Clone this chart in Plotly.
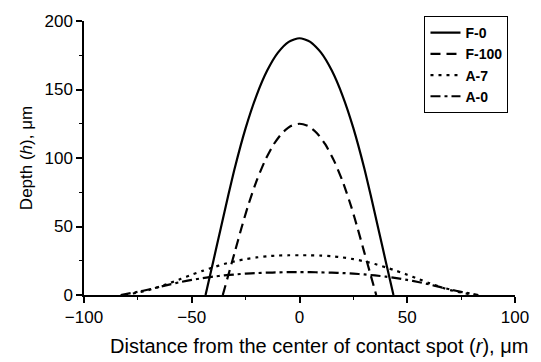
import plotly.graph_objects as go

# Half-profiles (r <= 0), mirrored for r > 0 (profiles are symmetric)
f0_r = [-43.6, -40, -36.5, -33, -30, -25, -20, -15, -10, -5, 0]
f0_h = [0, 24.7, 48.9, 73.1, 92.9, 121.8, 145.4, 163.8, 176.9, 184.8, 187.4]

f100_r = [-35.6, -33, -30, -27, -24, -20, -16, -12, -8, -4, 0]
f100_h = [0, 14.7, 31.5, 48.5, 64.5, 83, 98.1, 109.9, 118.3, 123.3, 125]

a7_r = [-81, -75, -70, -65, -60, -55, -50, -45, -40, -35, -30, -25, -20, -15, -10, -5, 0]
a7_h = [0, 1.8, 3.6, 6, 8.8, 11.8, 14.8, 17.6, 20.2, 22.6, 24.6, 26.2, 27.4, 28.3, 28.8, 29, 29]

a0_r = [-83, -75, -70, -65, -60, -55, -50, -45, -40, -35, -30, -25, -20, -15, -10, -5, 0]
a0_h = [0, 2.3, 4, 5.9, 7.8, 9.5, 11, 12.3, 13.4, 14.3, 15, 15.6, 16, 16.3, 16.5, 16.7, 16.7]

names = ["F-0", "F-100", "A-7", "A-0"]
dashes = ["solid", "10px,6px", "3px,5px", "10px,4px,3px,4px"]

x_title = "Distance from the center of contact spot (<i>r</i>), μm"
y_title = "Depth (<i>h</i>), μm"


def mirror(r, h):
    rr = list(r) + [-x for x in reversed(r[:-1])]
    hh = list(h) + list(reversed(h[:-1]))
    return rr, hh


fig = go.Figure()
for (r, h), name, dash in zip([(f0_r, f0_h), (f100_r, f100_h), (a7_r, a7_h), (a0_r, a0_h)], names, dashes):
    rr, hh = mirror(r, h)
    fig.add_trace(go.Scatter(x=rr, y=hh, mode="lines", name=name,
                             line=dict(color="black", width=2.2, dash=dash, shape="spline", smoothing=0.6)))

fam = "Liberation Sans, Arial, sans-serif"
tickfont = dict(family=fam, size=17, color="black")
axis_common = dict(showline=True, linecolor="black", linewidth=1.5, ticks="outside",
                   ticklen=6, tickwidth=1.5, tickcolor="black", showgrid=False, zeroline=False,
                   tickfont=tickfont, mirror=False)

fig.update_layout(
    width=541, height=362,
    margin=dict(l=84, r=24, t=15, b=67),
    paper_bgcolor="white", plot_bgcolor="white",
    font=tickfont,
    xaxis=dict(range=[-100, 100], dtick=50, tick0=-100,
               minor=dict(dtick=25, ticks="outside", ticklen=3, tickcolor="black", tickwidth=1.2),
               **axis_common),
    yaxis=dict(range=[0, 200], dtick=50,
               minor=dict(dtick=25, ticks="outside", ticklen=3, tickcolor="black", tickwidth=1.2),
               title=dict(text=y_title, font=dict(family=fam, size=17, color="black"), standoff=8),
               **axis_common),
    legend=dict(x=0.79, y=1.018, xanchor="left", yanchor="top",
                bgcolor="white", bordercolor="black", borderwidth=1,
                font=dict(family=fam, size=14, color="black", weight="bold"),
                tracegroupgap=0),
    showlegend=True,
    annotations=[dict(text=x_title, xref="paper", yref="paper", x=0.545, y=-0.186,
                      xanchor="center", yanchor="middle", showarrow=False,
                      font=dict(family=fam, size=20, color="black"))],
)

fig.write_html("out.html")
